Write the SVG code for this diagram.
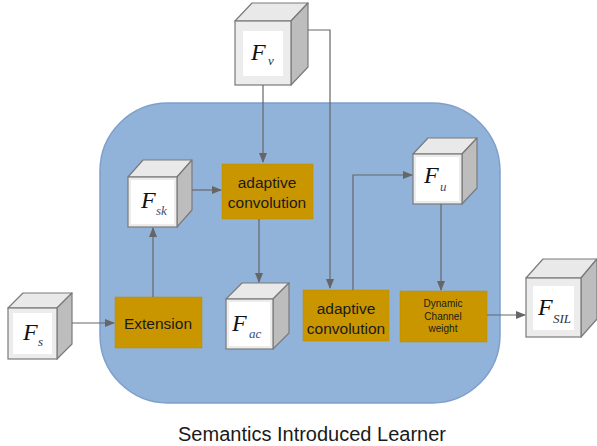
<svg xmlns="http://www.w3.org/2000/svg" width="597" height="446" viewBox="0 0 597 446">
<defs>
<marker id="ah" markerWidth="10" markerHeight="8" refX="9" refY="4" orient="auto" markerUnits="userSpaceOnUse">
<path d="M0,0 L10,4 L0,8 Z" fill="#666"/>
</marker>
<style>
.panel{fill:#91b3da;stroke:#7f9fca;stroke-width:1.5}
.box{fill:#c99600;stroke:#b88a00;stroke-width:0.5}
.bt{font-family:"Liberation Sans",Arial,sans-serif;font-size:15.5px;fill:#1a1a1a;text-anchor:middle}
.st{font-family:"Liberation Sans",Arial,sans-serif;font-size:10px;fill:#1a1a1a;text-anchor:middle}
.front{fill:#ececec;stroke:#7a7a7a;stroke-width:1.2}
.inner{fill:#ffffff}
.top{fill:#e9e9e9;stroke:#7a7a7a;stroke-width:1.2;stroke-linejoin:round}
.side{fill:#bdbdbd;stroke:#7a7a7a;stroke-width:1.2;stroke-linejoin:round}
.F{font-family:"Liberation Serif","Times New Roman",serif;font-style:italic;font-size:24px;fill:#111}
.sub{font-family:"Liberation Serif","Times New Roman",serif;font-style:italic;font-size:13px;fill:#333}
.subb{font-family:"Liberation Serif","Times New Roman",serif;font-style:italic;font-size:13px;fill:#3d4d72}
.conn{fill:none;stroke:#666;stroke-width:1.2}
.title{font-family:"Liberation Sans",Arial,sans-serif;font-size:20px;fill:#1a1a1a;text-anchor:middle}
</style>
</defs>
<rect width="597" height="446" fill="#ffffff"/>
<rect id="panel" class="panel" x="100" y="103" width="400" height="300" rx="68" ry="68"/>

<g id="Fv">
<polygon class="top" points="235,21 252,3 308,3 291,21"/>
<polygon class="side" points="291,21 308,3 308,67 291,85"/>
<rect class="front" x="235" y="21" width="56" height="64"/>
<rect class="inner" x="243" y="31" width="40" height="45"/>
<text class="F" x="251" y="60">F</text><text class="sub" x="268" y="65">v</text>
</g>

<g id="Fsk">
<polygon class="top" points="128,177 143,160 192,160 177,177"/>
<polygon class="side" points="177,177 192,160 192,210 177,227"/>
<rect class="front" x="128" y="177" width="49" height="50"/>
<rect class="inner" x="131" y="180" width="43" height="44"/>
<text class="F" x="141" y="208">F</text><text class="subb" x="156" y="215">sk</text>
</g>

<g id="Fs">
<polygon class="top" points="8,308 23,293 72,293 57,308"/>
<polygon class="side" points="57,308 72,293 72,344 57,359"/>
<rect class="front" x="8" y="308" width="49" height="51"/>
<rect class="inner" x="13" y="313" width="39" height="41"/>
<text class="F" x="23" y="340">F</text><text class="sub" x="38" y="346">s</text>
</g>

<g id="Fac">
<polygon class="top" points="226,299 242,283 289,283 273,299"/>
<polygon class="side" points="273,299 289,283 289,333 273,349"/>
<rect class="front" x="226" y="299" width="47" height="50"/>
<rect class="inner" x="229" y="302" width="41" height="44"/>
<text class="F" x="232" y="331">F</text><text class="subb" x="249" y="338">ac</text>
</g>

<g id="Fu">
<polygon class="top" points="413,154 428,138 477,138 462,154"/>
<polygon class="side" points="462,154 477,138 477,188 462,204"/>
<rect class="front" x="413" y="154" width="49" height="50"/>
<rect class="inner" x="416" y="157" width="43" height="44"/>
<text class="F" x="424" y="183">F</text><text class="subb" x="440" y="191">u</text>
</g>

<g id="Fsil">
<polygon class="top" points="526,278 543,259 597,259 581,278"/>
<polygon class="side" points="581,278 597,259 597,319 581,337"/>
<rect class="front" x="526" y="278" width="55" height="59"/>
<rect class="inner" x="533" y="286" width="41" height="44"/>
<text class="F" x="538" y="315">F</text><text class="sub" x="553" y="323" font-size="12">SIL</text>
</g>

<g id="ac1">
<rect class="box" x="222" y="164" width="91" height="55"/>
<text class="bt" x="267" y="188">adaptive</text>
<text class="bt" x="267" y="208">convolution</text>
</g>

<g id="ac2">
<rect class="box" x="303" y="290" width="86" height="51"/>
<text class="bt" x="346" y="314">adaptive</text>
<text class="bt" x="346" y="334">convolution</text>
</g>

<g id="ext">
<rect class="box" x="115" y="297" width="87" height="51"/>
<text class="bt" x="158" y="329">Extension</text>
</g>

<g id="dcw">
<rect class="box" x="400" y="291" width="87" height="51"/>
<text class="st" x="443" y="307">Dynamic</text>
<text class="st" x="443" y="320">Channel</text>
<text class="st" x="443" y="332">weight</text>
</g>

<g id="connectors">
<path class="conn" d="M263,85 L263,162" marker-end="url(#ah)"/>
<path class="conn" d="M308,30 L330,30 L330,288" marker-end="url(#ah)"/>
<path class="conn" d="M192,190 L221,190" marker-end="url(#ah)"/>
<path class="conn" d="M153,297 L153,228" marker-end="url(#ah)"/>
<path class="conn" d="M72,323 L114,323" marker-end="url(#ah)"/>
<path class="conn" d="M259,219 L259,282" marker-end="url(#ah)"/>
<path class="conn" d="M353,290 L353,175 L412,175" marker-end="url(#ah)"/>
<path class="conn" d="M441,204 L441,290" marker-end="url(#ah)"/>
<path class="conn" d="M487,315 L525,315" marker-end="url(#ah)"/>
</g>

<text class="title" x="312" y="441">Semantics Introduced Learner</text>
</svg>
